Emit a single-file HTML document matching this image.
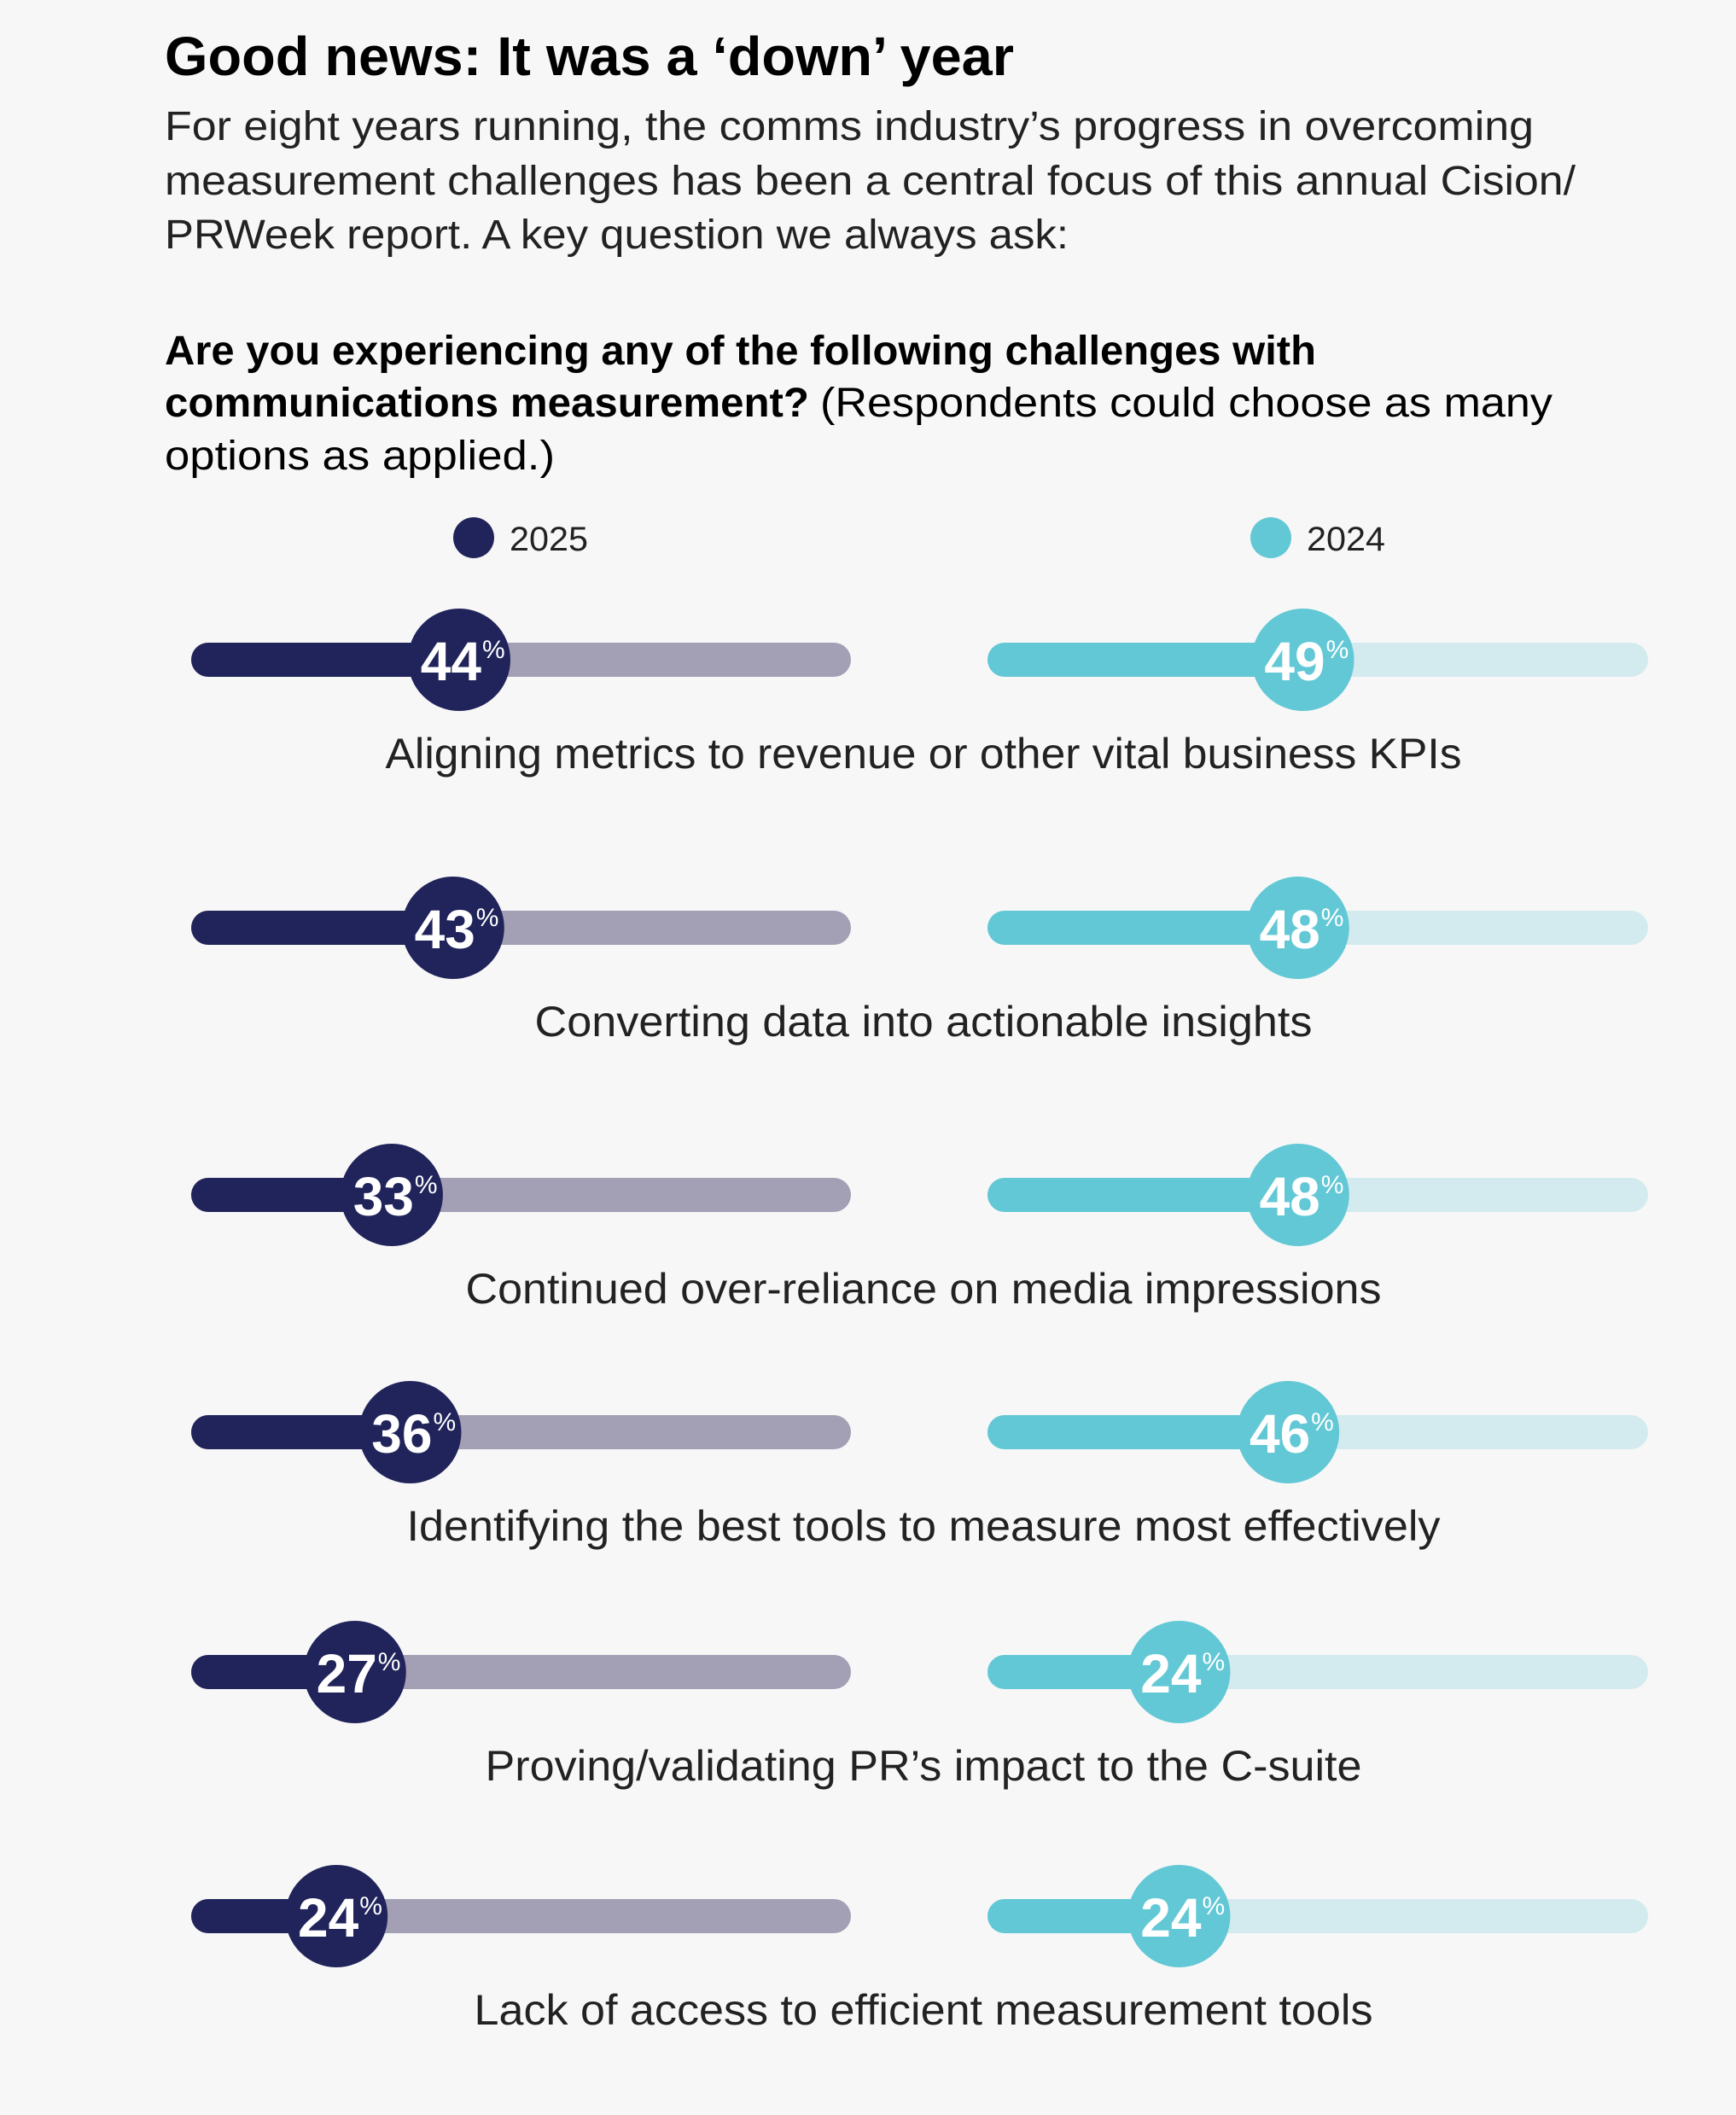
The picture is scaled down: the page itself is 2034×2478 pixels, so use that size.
<!DOCTYPE html>
<html><head><meta charset="utf-8"><style>
html,body{margin:0;padding:0;background:#f7f7f7}
svg{display:block}
text{font-family:"Liberation Sans",sans-serif}
</style></head><body>
<svg id="chart" width="2034" height="2478" viewBox="0 0 2034 2478" xmlns="http://www.w3.org/2000/svg">
<rect x="0" y="0" width="2034" height="2478" fill="#f7f7f7"/>
<text x="193" y="88" font-size="64" font-weight="bold" fill="#000" textLength="995" lengthAdjust="spacingAndGlyphs">Good news: It was a ‘down’ year</text>
<g fill="#222" font-size="48">
<text x="193" y="164" textLength="1604" lengthAdjust="spacingAndGlyphs">For eight years running, the comms industry’s progress in overcoming</text>
<text x="193" y="228" textLength="1653" lengthAdjust="spacingAndGlyphs">measurement challenges has been a central focus of this annual Cision/</text>
<text x="193" y="291" textLength="1059" lengthAdjust="spacingAndGlyphs">PRWeek report. A key question we always ask:</text>
</g>
<g fill="#000" font-size="48">
<text x="193" y="427" font-weight="bold" textLength="1349" lengthAdjust="spacingAndGlyphs">Are you experiencing any of the following challenges with</text>
<text x="193" y="488" font-weight="bold" textLength="755" lengthAdjust="spacingAndGlyphs">communications measurement?</text>
<text x="961" y="488" textLength="858" lengthAdjust="spacingAndGlyphs">(Respondents could choose as many</text>
<text x="193" y="550" textLength="457" lengthAdjust="spacingAndGlyphs">options as applied.)</text>
</g>
<g>
<g>
<circle cx="555" cy="630" r="24" fill="#20245a"/>
<text x="597" y="645" font-size="40" fill="#222" textLength="92" lengthAdjust="spacingAndGlyphs">2025</text>
</g>
<g>
<circle cx="1489" cy="630" r="24" fill="#63c8d5"/>
<text x="1531" y="645" font-size="40" fill="#222" textLength="92" lengthAdjust="spacingAndGlyphs">2024</text>
</g>
</g>
<g id="rows"></g>
</svg>
<script>
const categories = [
  "Aligning metrics to revenue or other vital business KPIs",
  "Converting data into actionable insights",
  "Continued over-reliance on media impressions",
  "Identifying the best tools to measure most effectively",
  "Proving/validating PR’s impact to the C-suite",
  "Lack of access to efficient measurement tools"
];
const values2025 = [44, 43, 33, 36, 27, 24];
const values2024 = [49, 48, 48, 46, 24, 24];
const labelWidths = [1261, 911, 1073, 1211, 1027, 1053];
const rowY = [773, 1087, 1400, 1678, 1959, 2245];

const NS = "http://www.w3.org/2000/svg";
const L = {x0: 224, x1: 997, dark: "#20245a", light: "#a39fb5"};
const R = {x0: 1157, x1: 1931, dark: "#63c8d5", light: "#d3ebef"};
function xLeft(v){ return L.x0 + (L.x1 - L.x0) * (0.0093 * v - 0.003); }
function xRight(v){ return R.x0 + (R.x1 - R.x0) * (0.11 + 0.0075 * v); }

function mk(tag, attrs, parent){
  const e = document.createElementNS(NS, tag);
  for (const k in attrs) e.setAttribute(k, attrs[k]);
  parent.appendChild(e);
  return e;
}
const rows = document.getElementById('rows');

function drawBar(g, P, cx, cy, v, key){
  const h = 40;
  const track = mk('rect', {x: P.x0, y: cy - h/2, width: P.x1 - P.x0, height: h, rx: h/2, fill: P.light}, g);
  
  
  const fill = mk('rect', {x: P.x0, y: cy - h/2, width: cx - P.x0, height: h, rx: h/2, fill: P.dark}, g);
  
  
  const c = mk('circle', {cx: cx, cy: cy, r: 60, fill: P.dark}, g);
  
  
  const t = mk('text', {x: cx + 26, y: cy + 24, 'font-size': 64, 'font-weight': 'bold', fill: '#fff', 'text-anchor': 'end'}, g);
  t.textContent = String(v);
  
  
  const p = mk('text', {x: cx + 27, y: cy - 2, 'font-size': 30, fill: '#fff'}, g);
  p.textContent = '%';
  
  
}

categories.forEach((cat, i) => {
  const g = mk('g', {}, rows);
  
  
  const cy = rowY[i];
  drawBar(g, L, xLeft(values2025[i]), cy, values2025[i], 'row-' + (i + 1) + '-2025');
  drawBar(g, R, xRight(values2024[i]), cy, values2024[i], 'row-' + (i + 1) + '-2024');
  const lab = mk('text', {x: 1082, y: cy + 127, 'font-size': 50, fill: '#222', 'text-anchor': 'middle', textLength: labelWidths[i], lengthAdjust: 'spacingAndGlyphs'}, g);
  lab.textContent = cat;
  
  
});
</script>
</body></html>
